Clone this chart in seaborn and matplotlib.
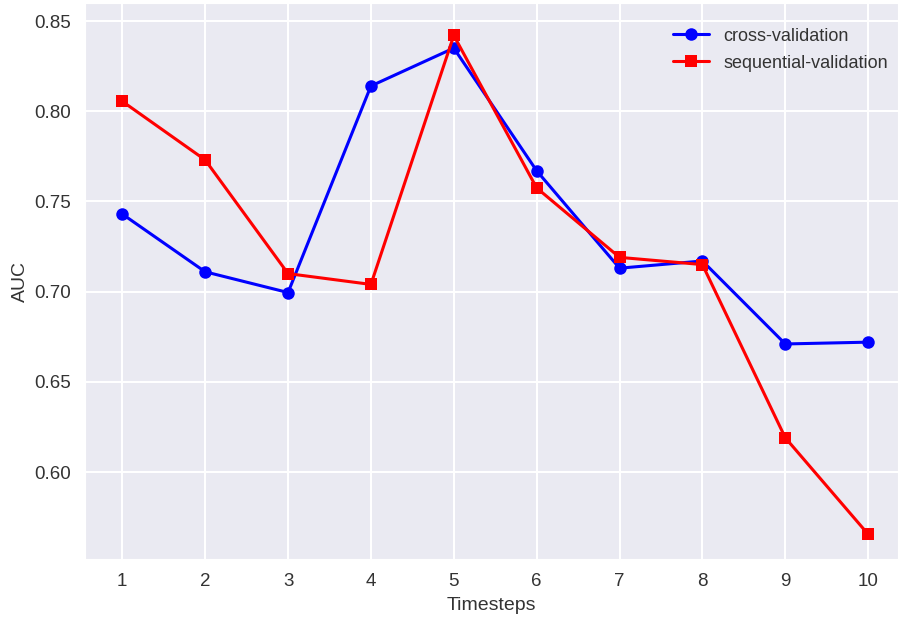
import matplotlib
matplotlib.use('Agg')
import matplotlib.pyplot as plt
import seaborn as sns
import pandas as pd

timesteps = [1, 2, 3, 4, 5, 6, 7, 8, 9, 10]
cross_validation = [0.743, 0.711, 0.6995, 0.814, 0.835, 0.767, 0.713, 0.717, 0.671, 0.672]
sequential_validation = [0.8055, 0.773, 0.710, 0.704, 0.842, 0.7575, 0.719, 0.715, 0.619, 0.5655]

sns.set_style('darkgrid', {'grid.linewidth': 1.5})
plt.rcParams['font.family'] = ['Liberation Sans', 'DejaVu Sans']

df = pd.DataFrame({'Timesteps': timesteps,
                   'cross-validation': cross_validation,
                   'sequential-validation': sequential_validation})

fig = plt.figure(figsize=(8.98, 6.19), dpi=100)
ax = fig.add_axes([85 / 898, 60 / 619, 813 / 898, 556 / 619])

sns.lineplot(data=df, x='Timesteps', y='cross-validation', color='blue', marker='o',
             markersize=9, markeredgewidth=0, linewidth=2.2, label='cross-validation', ax=ax)
sns.lineplot(data=df, x='Timesteps', y='sequential-validation', color='red', marker='s',
             markersize=8.5, markeredgewidth=0, linewidth=2.2, label='sequential-validation', ax=ax)

ax.set_xticks(timesteps)
ax.set_xlim(0.55, 10.36)
ax.set_ylim(0.5518, 0.8600)
ax.set_yticks([0.60, 0.65, 0.70, 0.75, 0.80, 0.85])
ax.set_yticklabels(['0.60', '0.65', '0.70', '0.75', '0.80', '0.85'])
ax.grid(True, linewidth=1.5, color='white')
ax.tick_params(labelsize=13.5, colors='#333333', length=0, pad=10)
ax.set_xlabel('Timesteps', fontsize=14, color='#333333', labelpad=5)
ax.set_ylabel('AUC', fontsize=14, color='#333333')
ax.legend(frameon=False, fontsize=13, loc='upper right', labelcolor='#333333',
          bbox_to_anchor=(1.008, 0.985), handlelength=2.0, labelspacing=0.55)

fig.savefig('out.png', dpi=100)
